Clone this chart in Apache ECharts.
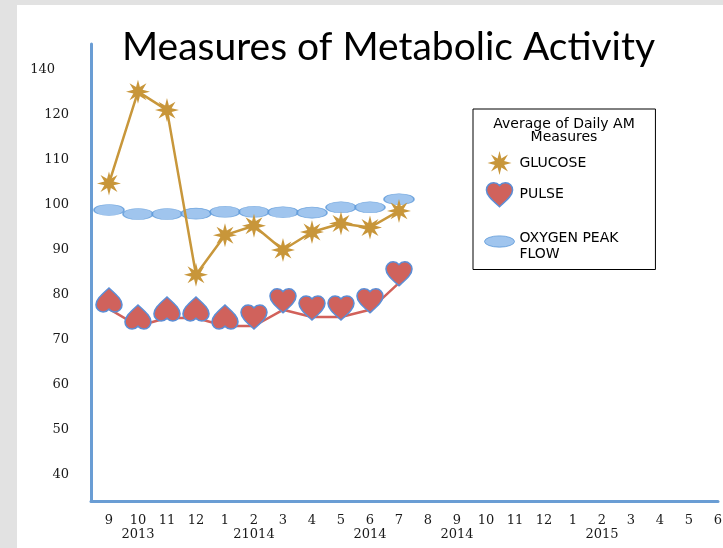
<!DOCTYPE html>
<html><head><meta charset="utf-8">
<script src="https://cdn.jsdelivr.net/npm/echarts@6/dist/echarts.min.js"></script>
<style>html,body{margin:0;padding:0;background:#e2e2e2;} #c{width:723px;height:548px;}</style>
</head><body><div id="c"></div>
<script>
// ---- data ----
const monthLabels = ['9','10','11','12','1','2','3','4','5','6','7','8','9','10','11','12','1','2','3','4','5','6'];
const yearLabels  = ['','2013','','','','21014','','','','2014','','','2014','','','','','2015','','','',''];
const yTickValues = [40, 50, 60, 70, 80, 90, 100, 110, 120, 130];
const yTickLabels = ['40','50','60','70','80','90','100','110','120','140'];
const glucose = [104.8, 125.2, 121.1, 84.5, 93.3, 95.4, 90.0, 94.0, 95.9, 95.0, 98.7];
const pulse   = [76.9, 73.1, 74.9, 74.9, 73.1, 73.1, 76.7, 75.1, 75.1, 76.7, 82.7];
const oxygen  = [98.9, 98.0, 98.0, 98.1, 98.5, 98.5, 98.4, 98.3, 99.5, 99.5, 101.3];

// ---- symbols ----
function starPath(n, R, r) {
  let d = '';
  for (let k = 0; k < 2 * n; k++) {
    const rad = (k % 2 === 0) ? R : r;
    const a = -Math.PI / 2 + k * Math.PI / n;
    d += (k === 0 ? 'M' : 'L') + (R + rad * Math.cos(a)).toFixed(2) + ',' + (R + rad * Math.sin(a)).toFixed(2);
  }
  return 'path://' + d + 'Z';
}
const star = starPath(8, 12, 5);
const heart = 'path://M12,21.35l-1.45-1.32C5.4,15.36,2,12.28,2,8.5C2,5.42,4.42,3,7.5,3c1.74,0,3.41,0.81,4.5,2.09C13.09,3.81,14.76,3,16.5,3C19.58,3,22,5.42,22,8.5c0,3.78-3.4,6.86-8.55,11.54L12,21.35z';
const ellipse = 'path://M0,6a16,6 0 1,0 32,0a16,6 0 1,0 -32,0Z';

const serif = 'DejaVu Serif';
const sans = 'DejaVu Sans';

const chart = echarts.init(document.getElementById('c'), null, {renderer: 'canvas'});
chart.setOption({
  backgroundColor: '#e2e2e2',
  animation: false,
  graphic: [
    {type: 'rect', z: -100, shape: {x: 17, y: 5, width: 706, height: 543}, style: {fill: '#ffffff'}},
    {type: 'text', z: 100, x: 564, y: 131,
     style: {text: 'Average of Daily AM\nMeasures', align: 'center', verticalAlign: 'middle',
             fontSize: 14, fontFamily: sans, lineHeight: 13, fill: '#000'}}
  ],
  title: {
    text: 'Measures of Metabolic Activity',
    left: 122, top: 28, padding: 0,
    textStyle: {fontFamily: 'Lato', fontSize: 39, fontWeight: 'normal', color: '#000'}
  },
  legend: {
    orient: 'vertical', left: 473, top: 109,
    padding: [42, 37, 1, 11],
    itemWidth: 30, itemHeight: 24, itemGap: 7,
    borderColor: '#000', borderWidth: 1, backgroundColor: '#fff',
    selectedMode: false,
    data: [
      {name: 'GLUCOSE', icon: star, itemStyle: {color: '#c8963a', borderWidth: 0}},
      {name: 'PULSE', icon: heart, itemStyle: {color: '#d0625c', borderColor: '#5b8ed6', borderWidth: 1.5}},
      {name: 'OXYGEN PEAK FLOW', icon: ellipse, itemStyle: {color: '#88b7ea', borderColor: '#5d98d8', borderWidth: 1}}
    ],
    formatter: function (name) {
      return name === 'OXYGEN PEAK FLOW' ? '{o|OXYGEN PEAK\nFLOW}' : name;
    },
    textStyle: {
      fontFamily: sans, fontSize: 14, color: '#000',
      rich: {o: {fontFamily: sans, fontSize: 14, color: '#000', lineHeight: 16, padding: [17, 0, 7, 0]}}
    }
  },
  grid: {left: 91, right: 5, top: 44, bottom: 47, containLabel: false, outerBoundsMode: 'none'},
  xAxis: {
    type: 'value', min: -0.62, max: 21, minInterval: 1, maxInterval: 1, splitNumber: 21,
    axisLine: {show: true, onZero: false, lineStyle: {color: '#6a9dd4', width: 3}},
    axisTick: {show: false}, splitLine: {show: false},
    axisLabel: {
      showMinLabel: false, showMaxLabel: true, margin: 13,
      fontFamily: serif, fontSize: 13, color: '#1a1a1a', lineHeight: 14,
      formatter: function (v) {
        const i = Math.round(v);
        if (Math.abs(v - i) > 1e-6 || i < 0 || i >= monthLabels.length) return '';
        return yearLabels[i] ? monthLabels[i] + '\n' + yearLabels[i] : monthLabels[i];
      }
    }
  },
  yAxis: {
    type: 'value', min: 34.2, max: 135.8, minInterval: 10, maxInterval: 10, splitNumber: 10,
    axisLine: {show: true, onZero: false, lineStyle: {color: '#6a9dd4', width: 3}},
    axisTick: {show: false}, splitLine: {show: false},
    axisLabel: {
      showMinLabel: false, showMaxLabel: false, margin: 22,
      fontFamily: serif, fontSize: 13, color: '#1a1a1a',
      formatter: function (v) {
        const idx = yTickValues.indexOf(Math.round(v));
        if (idx < 0 || Math.abs(v - Math.round(v)) > 1e-6) return '';
        return idx === yTickValues.length - 1 ? '{s|' + yTickLabels[idx] + '}' : yTickLabels[idx];
      },
      rich: {s: {fontFamily: serif, fontSize: 13, color: '#1a1a1a', padding: [0, 14, 0, 0]}}
    }
  },
  series: [
    {
      name: 'OXYGEN PEAK FLOW', type: 'scatter', z: 2,
      data: oxygen.map(function (v, i) { return [i, v]; }),
      symbol: 'circle', symbolSize: [30, 11],
      itemStyle: {color: '#88b7ea', borderColor: '#5d98d8', borderWidth: 1}
    },
    {
      name: 'GLUCOSE', type: 'line', z: 3,
      data: glucose.map(function (v, i) { return [i, v]; }),
      symbol: star, symbolSize: 24, symbolKeepAspect: true,
      lineStyle: {color: '#c8973b', width: 2.5},
      itemStyle: {color: '#c8963a', borderWidth: 0}
    },
    {
      name: 'PULSE', type: 'line', z: 3,
      data: pulse.map(function (v, i) { return [i, v]; }),
      symbol: heart, symbolSize: [26, 24], symbolKeepAspect: false,
      symbolOffset: [0, -9],
      symbolRotate: function (value, params) { return params.dataIndex < 5 ? 180 : 0; },
      lineStyle: {color: '#d2615a', width: 2.5},
      itemStyle: {color: '#d0625c', borderColor: '#5b8ed6', borderWidth: 1.5}
    }
  ]
});
</script></body></html>
